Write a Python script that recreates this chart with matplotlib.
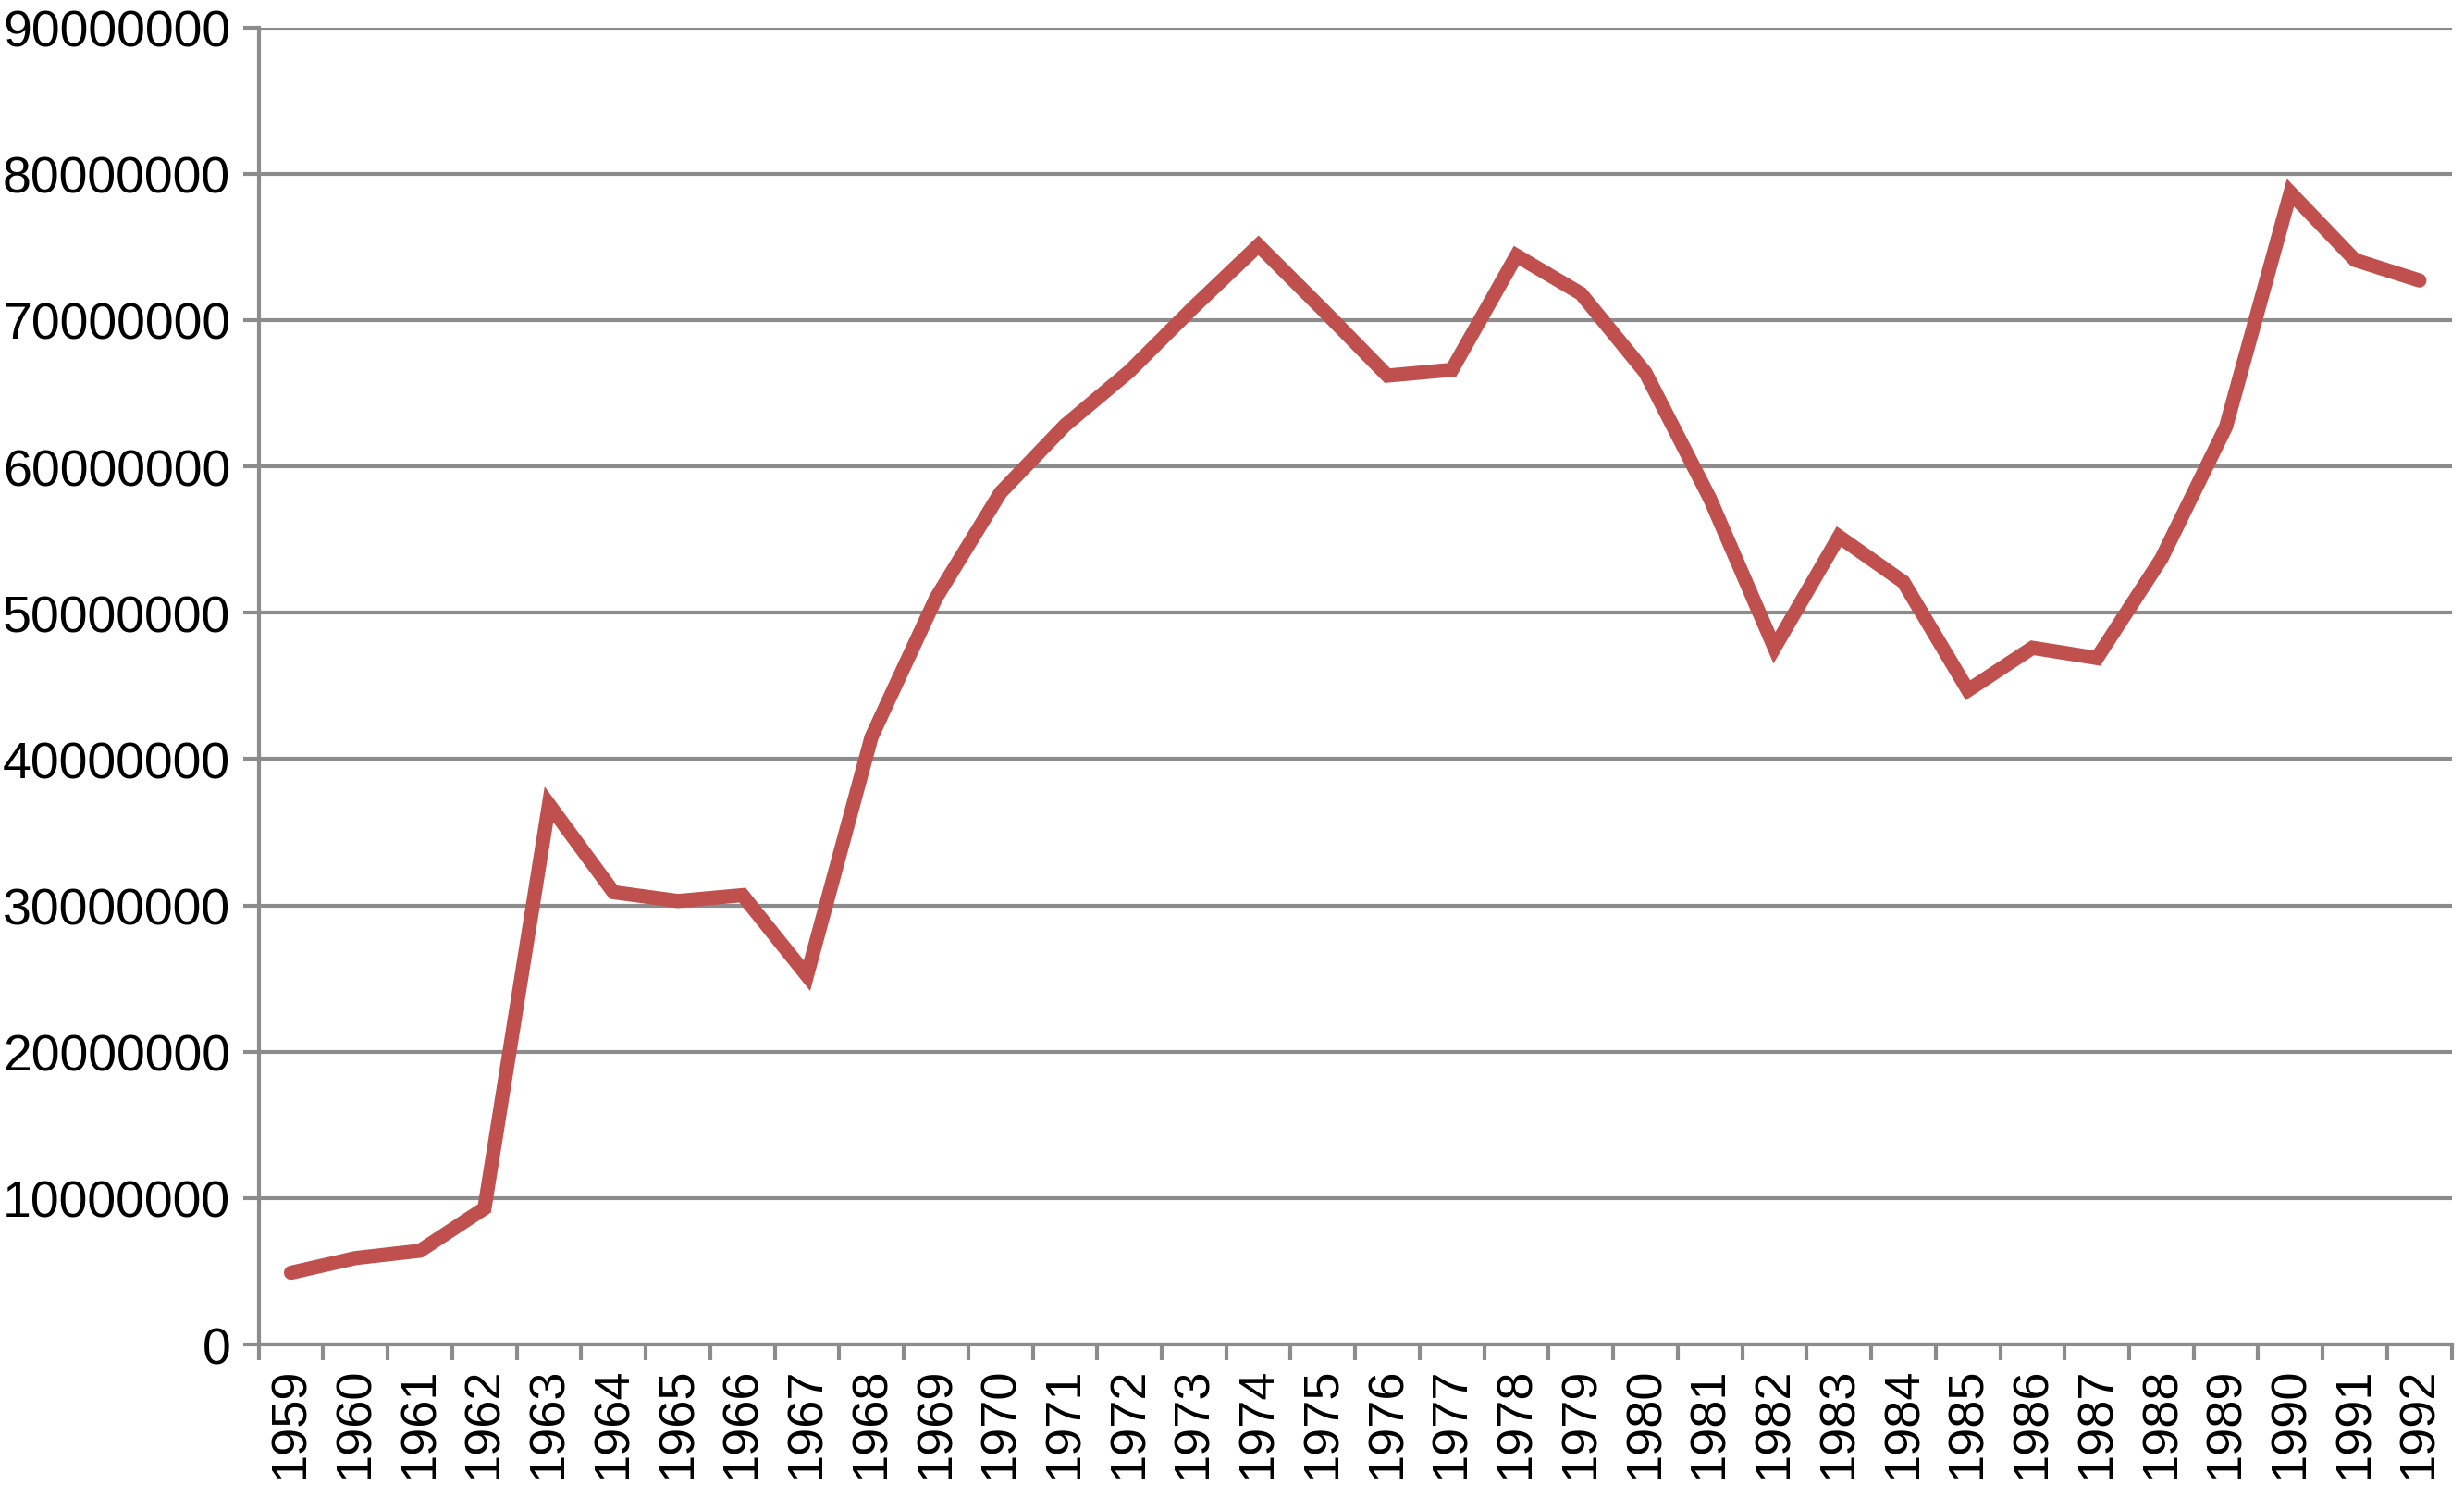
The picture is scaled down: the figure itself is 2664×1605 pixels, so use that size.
import matplotlib
matplotlib.use('Agg')

import matplotlib.pyplot as plt
from matplotlib.ticker import FixedLocator, NullFormatter
import numpy as np

# values
years = [str(y) for y in range(1959, 1993)]
values = [
	4.9e6, 5.9e6, 6.4e6, 9.3e6, 36.9e6, 30.9e6, 30.3e6, 30.7e6, 25.2e6, 41.5e6,
	51.0e6, 58.2e6, 62.8e6, 66.5e6, 70.9e6, 75.1e6, 70.7e6, 66.2e6, 66.6e6, 74.4e6,
	71.8e6, 66.4e6, 57.8e6, 47.6e6, 55.2e6, 52.1e6, 44.7e6, 47.6e6, 46.9e6, 53.7e6,
	62.7e6, 78.7e6, 74.1e6, 72.7e6,
]
y_ticks = list(range(0, 90000001, 10000000))

grey = '#8c8c8c'
red = '#c0504d'

plt.rcParams['font.family'] = ['Liberation Sans', 'DejaVu Sans']

fig = plt.figure(figsize=(26.64, 16.06), dpi=100)
ax = fig.add_axes([0.105, 0.0946, 0.890, 0.8864])

x = np.arange(len(years))
ax.plot(x, values, color=red, linewidth=11, solid_joinstyle='miter',
	solid_capstyle='round', zorder=3)

ax.set_xlim(-0.5, len(years) - 0.5)
ax.set_ylim(0, 90000000)

ax.set_yticks(y_ticks)
ax.set_yticklabels([str(v) for v in y_ticks])
ax.yaxis.grid(True, color=grey, linewidth=3.0)
ax.set_axisbelow(True)

ax.set_xticks(x)
ax.set_xticklabels(years, rotation=90)
ax.xaxis.set_minor_locator(FixedLocator(np.arange(-0.5, len(years), 1.0)))
ax.xaxis.set_minor_formatter(NullFormatter())

ax.tick_params(axis='x', which='major', length=0, pad=17, labelsize=39)
ax.tick_params(axis='x', which='minor', length=12, width=3.0, color=grey)
ax.tick_params(axis='y', length=12, width=3.0, color=grey, pad=10, labelsize=40)

for side in ['top', 'right']:
	ax.spines[side].set_visible(False)
for side in ['left', 'bottom']:
	ax.spines[side].set_color(grey)
	ax.spines[side].set_linewidth(3.0)

fig.savefig('out.png', dpi=100)
